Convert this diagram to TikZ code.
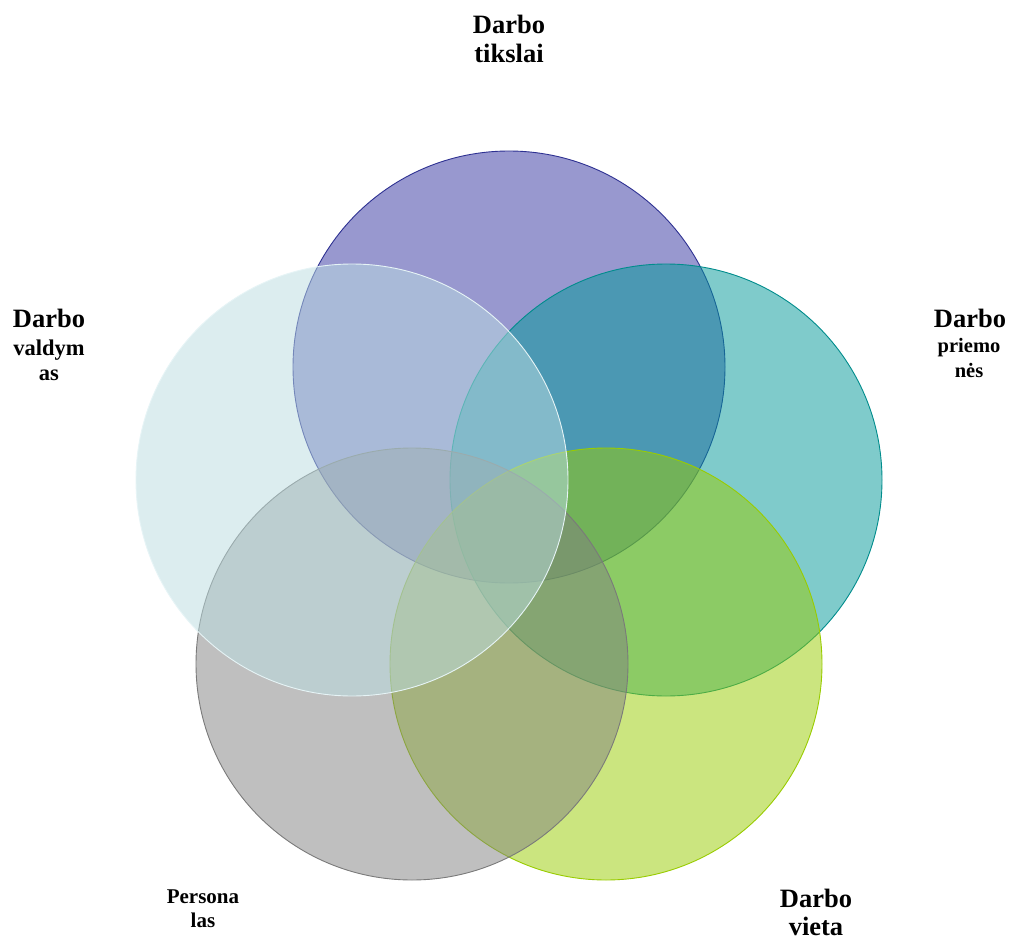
\documentclass[tikz,border=0pt]{standalone}
\usepackage{fontspec}
\setmainfont{Liberation Serif}
\definecolor{cPurple}{HTML}{3333A0}
\definecolor{ePurple}{HTML}{2E3192}
\definecolor{cTeal}{HTML}{009999}
\definecolor{eTeal}{HTML}{008C8C}
\definecolor{cGreen}{HTML}{99CC00}
\definecolor{eGreen}{HTML}{99CC00}
\definecolor{cGray}{HTML}{808080}
\definecolor{eGray}{HTML}{7A7A7A}
\definecolor{cLight}{HTML}{BBDDE1}
\definecolor{eLight}{HTML}{E6F4F6}
\tikzset{
  venn/.style={circle, minimum size=432pt, inner sep=0pt, line width=0.9pt, fill opacity=0.5},
  lab/.style={anchor=base, inner sep=0pt},
  big/.style={font=\bfseries\fontsize{26.5}{30}\selectfont},
}
\begin{document}
\begin{tikzpicture}[x=1pt,y=-1pt]
\useasboundingbox (0,0) rectangle (1009,941);
\fill[white] (0,0) rectangle (1009,941);
\node[venn, draw=ePurple, fill=cPurple] (tikslai) at (509,367) {};
\node[venn, draw=eTeal, fill=cTeal] (priemones) at (666,480) {};
\node[venn, draw=eGreen, fill=cGreen] (vieta) at (606,664) {};
\node[venn, draw=eGray, fill=cGray] (personalas) at (412,664) {};
\node[venn, draw=eLight, fill=cLight] (valdymas) at (352,480) {};
% labels
\node[lab, big] (t1) at (509,34) {Darbo};
\node[lab, big] (t2) at (509,63) {tikslai};
\node[lab, big] (v1) at (49,327) {Darbo};
\node[lab, font=\bfseries\fontsize{22.5}{26}\selectfont] (v2) at (49,355) {valdym};
\node[lab, font=\bfseries\fontsize{22.5}{26}\selectfont] (v3) at (49,380) {as};
\node[lab, big] (p1) at (970,327) {Darbo};
\node[lab, font=\bfseries\fontsize{20.5}{24}\selectfont] (p2) at (969,352) {priemo};
\node[lab, font=\bfseries\fontsize{20.5}{24}\selectfont] (p3) at (969,377) {nės};
\node[lab, font=\bfseries\fontsize{21}{25}\selectfont] (s1) at (203,903) {Persona};
\node[lab, font=\bfseries\fontsize{21}{25}\selectfont] (s2) at (203,927) {las};
\node[lab, big] (w1) at (816,907) {Darbo};
\node[lab, big] (w2) at (816,935) {vieta};
\end{tikzpicture}
\end{document}
